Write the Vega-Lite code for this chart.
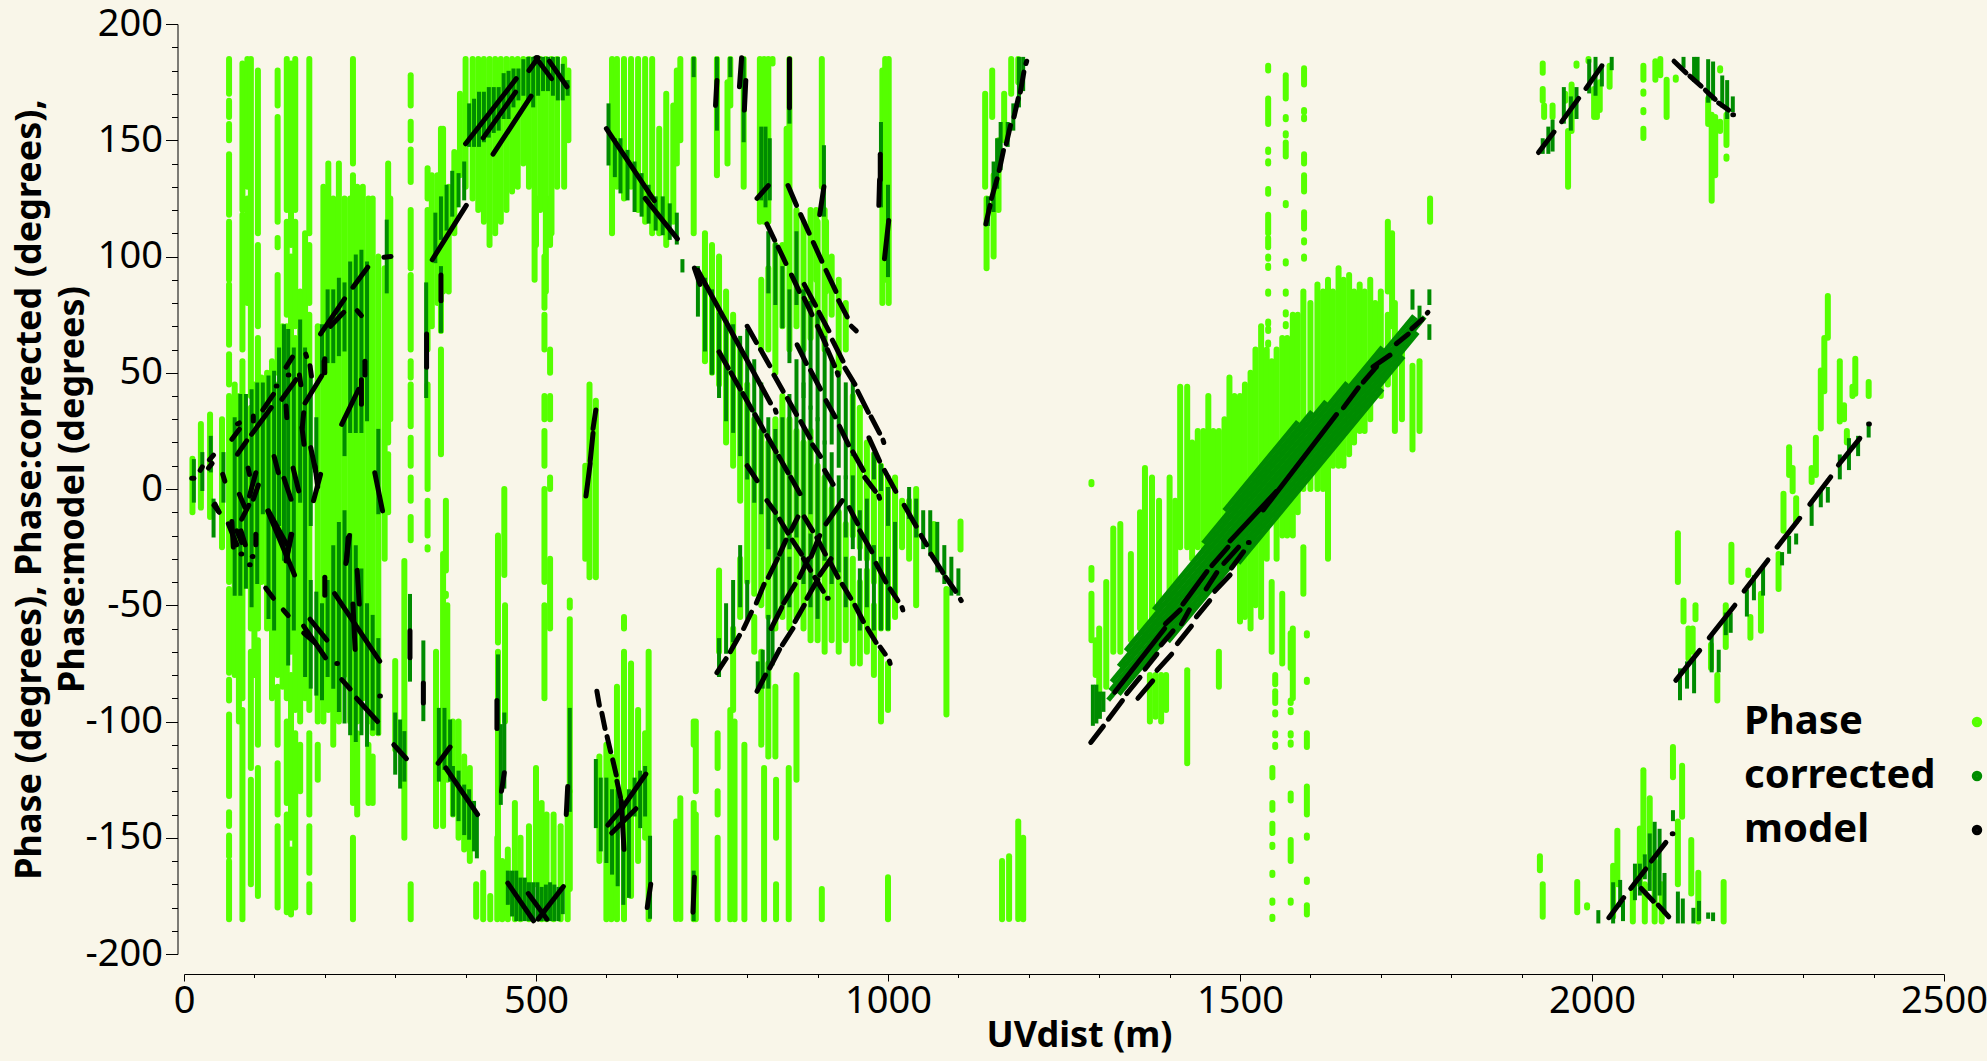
{"$schema":"https://vega.github.io/schema/vega-lite/v6.json","width":1760,"height":930,"autosize":"none","padding":{"left":184,"top":24,"right":43,"bottom":107},"background":"#f9f6e9","config":{"view":{"stroke":null}},
"datasets":{
"phase":[
{"x":12,"y":13,"y2":-10},{"x":24,"y":28,"y2":-8},{"x":37,"y":32,"y2":-12},{"x":54,"y":30,"y2":-25},{"x":64,"y":185,"y2":170},{"x":64,"y":167,"y2":160},{"x":64,"y":157,"y2":150},{"x":64,"y":144,"y2":118},{"x":64,"y":115,"y2":90},{"x":64,"y":88,"y2":62},{"x":64,"y":58,"y2":45},{"x":64,"y":40,"y2":-40},{"x":64,"y":-43,"y2":-79},{"x":64,"y":-82,"y2":-91},{"x":64,"y":-97,"y2":-132},{"x":64,"y":-139,"y2":-145},{"x":64,"y":-149,"y2":-158},{"x":64,"y":-160,"y2":-185},
{"x":83,"y":183,"y2":120},{"x":83,"y":118,"y2":60},{"x":83,"y":55,"y2":-90},{"x":83,"y":-95,"y2":-185},{"x":90,"y":185,"y2":130},{"x":90,"y":125,"y2":80},{"x":95,"y":185,"y2":40},{"x":95,"y":35,"y2":-60},{"x":95,"y":-70,"y2":-120},{"x":95,"y":-125,"y2":-170},{"x":105,"y":180,"y2":110},{"x":105,"y":105,"y2":70},{"x":105,"y":65,"y2":-60},{"x":105,"y":-65,"y2":-110},{"x":105,"y":-120,"y2":-175},{"x":72,"y":45,"y2":-80},{"x":78,"y":40,"y2":-100},{"x":100,"y":45,"y2":-80},{"x":110,"y":48,"y2":-40},{"x":118,"y":50,"y2":-60},{"x":125,"y":55,"y2":-90},
{"x":133,"y":180,"y2":165},{"x":133,"y":160,"y2":115},{"x":133,"y":108,"y2":104},{"x":133,"y":92,"y2":50},{"x":133,"y":45,"y2":-80},{"x":133,"y":-85,"y2":-110},{"x":133,"y":-118,"y2":-140},{"x":133,"y":-145,"y2":-180},{"x":140,"y":70,"y2":-85},{"x":146,"y":185,"y2":120},{"x":146,"y":115,"y2":75},{"x":146,"y":70,"y2":-90},{"x":146,"y":-100,"y2":-135},{"x":146,"y":-140,"y2":-182},{"x":152,"y":183,"y2":105},{"x":152,"y":100,"y2":-70},{"x":152,"y":-80,"y2":-150},{"x":152,"y":-155,"y2":-183},{"x":158,"y":185,"y2":120},{"x":158,"y":115,"y2":70},{"x":158,"y":65,"y2":-95},{"x":158,"y":-105,"y2":-180},{"x":165,"y":85,"y2":-100},{"x":165,"y":-110,"y2":-130},{"x":172,"y":110,"y2":-90},{"x":178,"y":185,"y2":110},{"x":178,"y":105,"y2":80},{"x":178,"y":75,"y2":-95},{"x":178,"y":-105,"y2":-140},{"x":178,"y":-145,"y2":-165},{"x":178,"y":-170,"y2":-182},{"x":190,"y":70,"y2":-100},{"x":190,"y":-110,"y2":-125},{"x":198,"y":130,"y2":-100},{"x":205,"y":140,"y2":-95},{"x":212,"y":125,"y2":-110},{"x":220,"y":140,"y2":-100},{"x":228,"y":125,"y2":-80},{"x":236,"y":125,"y2":-100},{"x":240,"y":185,"y2":140},{"x":240,"y":135,"y2":-135},{"x":240,"y":-150,"y2":-185},{"x":246,"y":130,"y2":-100},{"x":246,"y":-105,"y2":-140},{"x":254,"y":130,"y2":-90},{"x":262,"y":125,"y2":-100},{"x":262,"y":-110,"y2":-135},{"x":268,"y":125,"y2":-105},{"x":268,"y":-115,"y2":-135},{"x":276,"y":100,"y2":-105},{"x":285,"y":95,"y2":-30},{"x":290,"y":140,"y2":20},{"x":290,"y":15,"y2":-10},{"x":293,"y":125,"y2":30},
{"x":300,"y":-74,"y2":-112},{"x":313,"y":-31,"y2":-150},{"x":322,"y":178,"y2":165},{"x":322,"y":158,"y2":150},{"x":322,"y":146,"y2":132},{"x":322,"y":120,"y2":95},{"x":322,"y":92,"y2":60},{"x":322,"y":55,"y2":48},{"x":322,"y":45,"y2":27},{"x":322,"y":22,"y2":10},{"x":322,"y":5,"y2":-5},{"x":322,"y":-12,"y2":-22},{"x":322,"y":-170,"y2":-185},{"x":346,"y":138,"y2":125},{"x":346,"y":120,"y2":60},{"x":346,"y":45,"y2":0},{"x":346,"y":-5,"y2":-20},{"x":346,"y":-25,"y2":-26},{"x":365,"y":155,"y2":90},{"x":365,"y":90,"y2":68},{"x":365,"y":60,"y2":15},{"x":368,"y":-28,"y2":-145},{"x":372,"y":-5,"y2":-35},{"x":372,"y":-45,"y2":-46},
{"x":358,"y":-70,"y2":-145},{"x":374,"y":-50,"y2":-125},{"x":382,"y":-100,"y2":-140},{"x":390,"y":-100,"y2":-150},{"x":398,"y":-115,"y2":-155},{"x":406,"y":-120,"y2":-160},{"x":352,"y":135,"y2":70},{"x":360,"y":135,"y2":80},{"x":368,"y":155,"y2":85},{"x":376,"y":130,"y2":85},{"x":384,"y":145,"y2":110},
{"x":392,"y":170,"y2":135},{"x":400,"y":185,"y2":130},{"x":410,"y":185,"y2":125},{"x":418,"y":185,"y2":120},{"x":426,"y":185,"y2":115},{"x":434,"y":185,"y2":105},{"x":442,"y":185,"y2":110},{"x":450,"y":185,"y2":115},{"x":458,"y":185,"y2":120},{"x":466,"y":185,"y2":128},{"x":474,"y":185,"y2":130},{"x":482,"y":185,"y2":140},{"x":490,"y":185,"y2":130},{"x":498,"y":185,"y2":90},{"x":506,"y":185,"y2":120},{"x":514,"y":185,"y2":85},{"x":522,"y":185,"y2":110},{"x":530,"y":185,"y2":130},{"x":540,"y":185,"y2":130},{"x":546,"y":180,"y2":150},
{"x":512,"y":100,"y2":78},{"x":512,"y":75,"y2":60},{"x":512,"y":40,"y2":30},{"x":512,"y":25,"y2":10},{"x":512,"y":0,"y2":-40},{"x":512,"y":-50,"y2":-90},{"x":500,"y":125,"y2":105},{"x":520,"y":125,"y2":105},{"x":520,"y":60,"y2":50},{"x":520,"y":40,"y2":30},{"x":520,"y":5,"y2":0},{"x":520,"y":-30,"y2":-60},{"x":455,"y":0,"y2":-37},{"x":446,"y":-20,"y2":-66},{"x":446,"y":-70,"y2":-165},{"x":456,"y":-50,"y2":-100},
{"x":415,"y":-170,"y2":-184},{"x":425,"y":-165,"y2":-185},{"x":435,"y":-175,"y2":-185},{"x":445,"y":-150,"y2":-185},{"x":452,"y":-160,"y2":-185},{"x":460,"y":-155,"y2":-185},{"x":470,"y":-135,"y2":-185},{"x":478,"y":-150,"y2":-185},{"x":490,"y":-145,"y2":-185},{"x":500,"y":-120,"y2":-170},{"x":508,"y":-135,"y2":-185},{"x":515,"y":-140,"y2":-185},{"x":525,"y":-140,"y2":-185},{"x":535,"y":-145,"y2":-185},{"x":545,"y":-140,"y2":-185},{"x":548,"y":-48,"y2":-51},{"x":548,"y":-56,"y2":-130},{"x":548,"y":-130,"y2":-172},
{"x":570,"y":10,"y2":-30},{"x":576,"y":45,"y2":-38},{"x":585,"y":38,"y2":-38},
{"x":608,"y":185,"y2":110},{"x":615,"y":185,"y2":130},{"x":625,"y":185,"y2":125},{"x":635,"y":185,"y2":130},{"x":645,"y":185,"y2":120},{"x":655,"y":185,"y2":115},{"x":665,"y":185,"y2":110},{"x":675,"y":155,"y2":110},{"x":685,"y":170,"y2":105},{"x":695,"y":165,"y2":115},{"x":700,"y":180,"y2":140},{"x":705,"y":185,"y2":150},
{"x":590,"y":-115,"y2":-160},{"x":600,"y":-110,"y2":-185},{"x":607,"y":-115,"y2":-185},{"x":615,"y":-85,"y2":-185},{"x":625,"y":-55,"y2":-60},{"x":625,"y":-70,"y2":-185},{"x":635,"y":-75,"y2":-175},{"x":645,"y":-95,"y2":-160},{"x":655,"y":-105,"y2":-150},{"x":660,"y":-70,"y2":-185},{"x":705,"y":-133,"y2":-185},{"x":727,"y":-100,"y2":-130},{"x":727,"y":-140,"y2":-185},
{"x":724,"y":185,"y2":110},{"x":757,"y":185,"y2":135},{"x":776,"y":185,"y2":165},{"x":772,"y":175,"y2":140},{"x":795,"y":185,"y2":130},{"x":818,"y":185,"y2":115},{"x":824,"y":185,"y2":115},{"x":830,"y":185,"y2":115},{"x":836,"y":185,"y2":183},{"x":860,"y":185,"y2":125},{"x":856,"y":155,"y2":100},{"x":906,"y":185,"y2":130},{"x":898,"y":120,"y2":90},{"x":912,"y":115,"y2":85},{"x":992,"y":180,"y2":80},{"x":1001,"y":185,"y2":80},{"x":996,"y":185,"y2":90},
{"x":699,"y":-143,"y2":-185},{"x":724,"y":-100,"y2":-110},{"x":724,"y":-135,"y2":-185},{"x":758,"y":-105,"y2":-120},{"x":758,"y":-130,"y2":-140},{"x":758,"y":-150,"y2":-185},{"x":776,"y":-95,"y2":-185},{"x":782,"y":-100,"y2":-185},{"x":796,"y":-110,"y2":-185},{"x":824,"y":-120,"y2":-185},{"x":841,"y":-125,"y2":-150},{"x":841,"y":-170,"y2":-185},{"x":859,"y":-120,"y2":-185},{"x":906,"y":-172,"y2":-185},{"x":1000,"y":-167,"y2":-185},{"x":1162,"y":-160,"y2":-185},{"x":1172,"y":-158,"y2":-185},{"x":1185,"y":-143,"y2":-185},{"x":1192,"y":-150,"y2":-185},
{"x":740,"y":110,"y2":55},{"x":750,"y":105,"y2":50},{"x":760,"y":100,"y2":45},{"x":760,"y":-35,"y2":-70},{"x":770,"y":85,"y2":20},{"x":780,"y":75,"y2":10},{"x":780,"y":-60,"y2":-95},{"x":790,"y":60,"y2":-5},{"x":790,"y":-30,"y2":-55},{"x":800,"y":45,"y2":-40},{"x":810,"y":30,"y2":-45},{"x":810,"y":-55,"y2":-70},{"x":820,"y":90,"y2":60},{"x":820,"y":25,"y2":-50},{"x":820,"y":-70,"y2":-110},{"x":830,"y":95,"y2":60},{"x":830,"y":20,"y2":-55},{"x":830,"y":-75,"y2":-115},{"x":840,"y":105,"y2":50},{"x":840,"y":30,"y2":-60},{"x":840,"y":-85,"y2":-115},{"x":850,"y":105,"y2":70},{"x":850,"y":40,"y2":-55},{"x":860,"y":125,"y2":60},{"x":860,"y":30,"y2":-60},{"x":870,"y":120,"y2":70},{"x":870,"y":25,"y2":-55},{"x":870,"y":-80,"y2":-125},{"x":880,"y":115,"y2":60},{"x":880,"y":20,"y2":-60},{"x":890,"y":120,"y2":65},{"x":890,"y":25,"y2":-65},{"x":900,"y":115,"y2":70},{"x":900,"y":10,"y2":-65},{"x":910,"y":120,"y2":60},{"x":910,"y":5,"y2":-70},{"x":920,"y":100,"y2":75},{"x":920,"y":0,"y2":-65},{"x":930,"y":90,"y2":50},{"x":930,"y":-10,"y2":-70},{"x":940,"y":80,"y2":60},{"x":940,"y":-15,"y2":-65},{"x":950,"y":40,"y2":-20},{"x":950,"y":-30,"y2":-75},{"x":960,"y":35,"y2":-25},{"x":960,"y":-40,"y2":-75},{"x":970,"y":20,"y2":-30},{"x":970,"y":-35,"y2":-70},{"x":980,"y":15,"y2":-40},{"x":980,"y":-50,"y2":-80},{"x":990,"y":10,"y2":-60},{"x":990,"y":-70,"y2":-100},{"x":1000,"y":5,"y2":-60},{"x":1000,"y":-75,"y2":-95},{"x":1010,"y":5,"y2":-55},{"x":1020,"y":-5,"y2":-25},{"x":1030,"y":-5,"y2":-30},{"x":1040,"y":0,"y2":-50},{"x":1065,"y":-15,"y2":-28},{"x":1083,"y":-43,"y2":-97},{"x":1103,"y":-14,"y2":-26},
{"x":1140,"y":125,"y2":95},{"x":1138,"y":170,"y2":130},{"x":1150,"y":135,"y2":100},{"x":1157,"y":150,"y2":120},{"x":1148,"y":180,"y2":160},{"x":1165,"y":170,"y2":150},{"x":1175,"y":185,"y2":170},{"x":1185,"y":185,"y2":175},
{"x":1289,"y":2,"y2":3},{"x":1289,"y":-34,"y2":-39},{"x":1289,"y":-45,"y2":-65},{"x":1295,"y":-65,"y2":-80},{"x":1300,"y":-60,"y2":-90},{"x":1310,"y":-40,"y2":-85},{"x":1320,"y":-17,"y2":-70},{"x":1330,"y":-15,"y2":-70},{"x":1345,"y":-28,"y2":-65},{"x":1358,"y":-10,"y2":-60},{"x":1365,"y":9,"y2":-65},{"x":1375,"y":5,"y2":-70},{"x":1385,"y":-5,"y2":-65},{"x":1372,"y":-80,"y2":-100},{"x":1380,"y":-80,"y2":-98},{"x":1388,"y":-80,"y2":-100},{"x":1395,"y":-80,"y2":-95},{"x":1400,"y":5,"y2":-60},{"x":1408,"y":-5,"y2":-55},{"x":1415,"y":44,"y2":-25},{"x":1425,"y":44,"y2":-25},{"x":1425,"y":-78,"y2":-118},{"x":1432,"y":20,"y2":-30},{"x":1440,"y":25,"y2":-25},{"x":1448,"y":25,"y2":-25},{"x":1455,"y":40,"y2":-30},{"x":1462,"y":25,"y2":-30},{"x":1470,"y":25,"y2":-30},{"x":1470,"y":-70,"y2":-85},{"x":1478,"y":30,"y2":-20},{"x":1485,"y":48,"y2":-5},{"x":1492,"y":40,"y2":-20},{"x":1500,"y":40,"y2":-57},{"x":1507,"y":45,"y2":-55},{"x":1515,"y":50,"y2":-60},{"x":1522,"y":60,"y2":-50},{"x":1530,"y":70,"y2":-55},{"x":1538,"y":60,"y2":-30},{"x":1545,"y":55,"y2":-10},{"x":1545,"y":-40,"y2":-70},{"x":1552,"y":60,"y2":-30},{"x":1560,"y":65,"y2":-20},{"x":1560,"y":-45,"y2":-75},{"x":1567,"y":65,"y2":-20},{"x":1575,"y":75,"y2":-20},{"x":1575,"y":-60,"y2":-90},{"x":1582,"y":75,"y2":-10},{"x":1590,"y":85,"y2":0},{"x":1590,"y":-25,"y2":-45},{"x":1600,"y":80,"y2":0},{"x":1610,"y":88,"y2":0},{"x":1618,"y":85,"y2":0},{"x":1625,"y":90,"y2":-30},{"x":1632,"y":85,"y2":10},{"x":1640,"y":95,"y2":10},{"x":1647,"y":90,"y2":10},{"x":1655,"y":92,"y2":15},{"x":1662,"y":85,"y2":20},{"x":1670,"y":88,"y2":25},{"x":1677,"y":85,"y2":25},{"x":1685,"y":90,"y2":30},{"x":1692,"y":80,"y2":45},{"x":1700,"y":85,"y2":40},{"x":1710,"y":115,"y2":85},{"x":1710,"y":75,"y2":45},{"x":1716,"y":110,"y2":70},{"x":1720,"y":80,"y2":25},{"x":1730,"y":60,"y2":30},{"x":1745,"y":53,"y2":17},{"x":1755,"y":55,"y2":25},{"x":1770,"y":125,"y2":115},
{"x":1540,"y":180,"y2":182},{"x":1540,"y":168,"y2":157},{"x":1540,"y":146,"y2":145},{"x":1540,"y":141,"y2":140},{"x":1540,"y":129,"y2":127},{"x":1540,"y":118,"y2":110},{"x":1540,"y":108,"y2":104},{"x":1540,"y":100,"y2":99},{"x":1540,"y":96,"y2":95},{"x":1540,"y":85,"y2":84},{"x":1540,"y":72,"y2":71},{"x":1540,"y":69,"y2":68},{"x":1540,"y":63,"y2":62},{"x":1546,"y":-120,"y2":-124},{"x":1546,"y":-135,"y2":-138},{"x":1546,"y":-144,"y2":-148},{"x":1546,"y":-153,"y2":-154},{"x":1546,"y":-165,"y2":-166},{"x":1546,"y":-177,"y2":-178},{"x":1546,"y":-184,"y2":-185},{"x":1550,"y":-80,"y2":-84},{"x":1550,"y":-87,"y2":-92},{"x":1550,"y":-96,"y2":-97},{"x":1550,"y":-105,"y2":-106},{"x":1550,"y":-110,"y2":-111},
{"x":1565,"y":178,"y2":168},{"x":1565,"y":160,"y2":159},{"x":1565,"y":153,"y2":152},{"x":1565,"y":149,"y2":143},{"x":1565,"y":123,"y2":122},{"x":1565,"y":98,"y2":97},{"x":1565,"y":85,"y2":84},{"x":1565,"y":76,"y2":75},{"x":1565,"y":71,"y2":70},{"x":1572,"y":-62,"y2":-77},{"x":1572,"y":-91,"y2":-92},{"x":1572,"y":-95,"y2":-96},{"x":1572,"y":-105,"y2":-106},{"x":1572,"y":-109,"y2":-110},{"x":1572,"y":-131,"y2":-134},{"x":1572,"y":-151,"y2":-160},{"x":1572,"y":-177,"y2":-178},
{"x":1591,"y":181,"y2":174},{"x":1591,"y":163,"y2":162},{"x":1591,"y":160,"y2":159},{"x":1591,"y":144,"y2":140},{"x":1591,"y":135,"y2":128},{"x":1591,"y":119,"y2":112},{"x":1591,"y":107,"y2":106},{"x":1591,"y":100,"y2":99},{"x":1595,"y":-62,"y2":-63},{"x":1595,"y":-82,"y2":-83},{"x":1595,"y":-105,"y2":-111},{"x":1595,"y":-128,"y2":-140},{"x":1595,"y":-149,"y2":-150},{"x":1595,"y":-168,"y2":-169},{"x":1595,"y":-179,"y2":-183},
{"x":1930,"y":183,"y2":179},{"x":1930,"y":172,"y2":167},{"x":1932,"y":165,"y2":160},{"x":1944,"y":165,"y2":160},{"x":1962,"y":170,"y2":167},{"x":1966,"y":154,"y2":130},{"x":1971,"y":174,"y2":154},{"x":1978,"y":183,"y2":182},{"x":1995,"y":185,"y2":184},{"x":2003,"y":172,"y2":160},{"x":2007,"y":172,"y2":160},{"x":2011,"y":175,"y2":163},{"x":2025,"y":182,"y2":173},{"x":2073,"y":182,"y2":176},{"x":2073,"y":171,"y2":170},{"x":2073,"y":163,"y2":162},{"x":2073,"y":155,"y2":151},{"x":2097,"y":185,"y2":178},{"x":2090,"y":184,"y2":176},{"x":2106,"y":176,"y2":160},{"x":2119,"y":177,"y2":176},{"x":2165,"y":168,"y2":157},{"x":2170,"y":161,"y2":124},{"x":2175,"y":160,"y2":135},{"x":2182,"y":181,"y2":180},{"x":2182,"y":158,"y2":154},{"x":2191,"y":161,"y2":148},{"x":2191,"y":143,"y2":142},
{"x":1926,"y":-158,"y2":-164},{"x":1930,"y":-170,"y2":-184},{"x":1979,"y":-169,"y2":-182},{"x":1993,"y":-179,"y2":-180},{"x":2030,"y":-162,"y2":-184},{"x":2036,"y":-147,"y2":-170},{"x":2058,"y":-173,"y2":-186},{"x":2068,"y":-146,"y2":-170},{"x":2073,"y":-121,"y2":-157},{"x":2075,"y":-170,"y2":-186},{"x":2082,"y":-133,"y2":-163},{"x":2089,"y":-160,"y2":-186},{"x":2099,"y":-170,"y2":-186},{"x":2115,"y":-111,"y2":-124},{"x":2122,"y":-143,"y2":-170},{"x":2128,"y":-119,"y2":-141},{"x":2141,"y":-151,"y2":-174},{"x":2151,"y":-165,"y2":-186},{"x":2187,"y":-169,"y2":-186},
{"x":2122,"y":-19,"y2":-40},{"x":2130,"y":-48,"y2":-57},{"x":2147,"y":-50,"y2":-56},{"x":2137,"y":-60,"y2":-73},{"x":2143,"y":-60,"y2":-70},{"x":2169,"y":-67,"y2":-77},{"x":2178,"y":-80,"y2":-91},{"x":2198,"y":-24,"y2":-40},{"x":2190,"y":-50,"y2":-68},{"x":2225,"y":-55,"y2":-64},{"x":2240,"y":-45,"y2":-61},{"x":2222,"y":-35,"y2":-37},{"x":2265,"y":-28,"y2":-43},{"x":2272,"y":-2,"y2":-18},{"x":2280,"y":18,"y2":6},{"x":2285,"y":9,"y2":-1},{"x":2290,"y":-4,"y2":-14},{"x":2312,"y":9,"y2":3},{"x":2318,"y":22,"y2":6},{"x":2325,"y":51,"y2":26},{"x":2330,"y":65,"y2":42},{"x":2335,"y":83,"y2":65},{"x":2352,"y":55,"y2":29},{"x":2358,"y":36,"y2":30},{"x":2362,"y":25,"y2":20},{"x":2374,"y":56,"y2":41},{"x":2370,"y":44,"y2":40},{"x":2393,"y":46,"y2":40}
],
"corrected":[
{"x":14,"y":12,"y2":-5},{"x":26,"y":15,"y2":0},{"x":38,"y":22,"y2":8},{"x":56,"y":15,"y2":-5},{"x":42,"y":-5,"y2":-20},{"x":72,"y":30,"y2":-45},{"x":80,"y":40,"y2":-45},{"x":88,"y":40,"y2":-42},{"x":96,"y":42,"y2":-50},{"x":104,"y":45,"y2":-40},{"x":112,"y":45,"y2":-10},{"x":120,"y":48,"y2":-55},{"x":128,"y":50,"y2":-60},{"x":135,"y":60,"y2":-15},{"x":142,"y":70,"y2":-30},{"x":148,"y":68,"y2":-75},{"x":156,"y":60,"y2":-60},{"x":165,"y":72,"y2":-5},{"x":172,"y":60,"y2":-80},{"x":180,"y":50,"y2":-15},{"x":180,"y":-40,"y2":-85},{"x":188,"y":30,"y2":5},{"x":188,"y":-45,"y2":-88},{"x":196,"y":70,"y2":50},{"x":196,"y":-50,"y2":-90},{"x":204,"y":85,"y2":55},{"x":204,"y":-40,"y2":-80},{"x":212,"y":85,"y2":55},{"x":212,"y":-25,"y2":-85},{"x":220,"y":90,"y2":58},{"x":220,"y":-15,"y2":-95},{"x":228,"y":88,"y2":60},{"x":228,"y":30,"y2":15},{"x":228,"y":-10,"y2":-100},{"x":236,"y":97,"y2":25},{"x":236,"y":-20,"y2":-105},{"x":244,"y":100,"y2":25},{"x":244,"y":-25,"y2":-108},{"x":252,"y":102,"y2":25},{"x":252,"y":-35,"y2":-105},{"x":260,"y":97,"y2":30},{"x":260,"y":-50,"y2":-110},{"x":268,"y":-55,"y2":-103},{"x":276,"y":25,"y2":-10},{"x":276,"y":-65,"y2":-105},{"x":288,"y":115,"y2":85},
{"x":300,"y":-97,"y2":-122},{"x":307,"y":-100,"y2":-128},{"x":313,"y":-105,"y2":-125},{"x":321,"y":-46,"y2":-82},{"x":340,"y":-66,"y2":-99},{"x":344,"y":88,"y2":40},{"x":365,"y":95,"y2":68},{"x":357,"y":118,"y2":98},{"x":365,"y":125,"y2":108},{"x":373,"y":130,"y2":112},{"x":381,"y":136,"y2":118},{"x":390,"y":135,"y2":122},{"x":398,"y":140,"y2":125},
{"x":405,"y":165,"y2":148},{"x":412,"y":167,"y2":148},{"x":419,"y":170,"y2":148},{"x":426,"y":170,"y2":150},{"x":433,"y":172,"y2":152},{"x":440,"y":172,"y2":154},{"x":447,"y":172,"y2":155},{"x":454,"y":178,"y2":160},{"x":461,"y":179,"y2":160},{"x":468,"y":180,"y2":165},{"x":475,"y":180,"y2":168},{"x":482,"y":184,"y2":170},{"x":489,"y":185,"y2":168},{"x":496,"y":185,"y2":165},{"x":503,"y":185,"y2":170},{"x":510,"y":185,"y2":172},{"x":517,"y":185,"y2":172},{"x":524,"y":185,"y2":170},{"x":531,"y":185,"y2":168},{"x":538,"y":182,"y2":168},{"x":545,"y":175,"y2":170},
{"x":362,"y":-95,"y2":-125},{"x":370,"y":-95,"y2":-120},{"x":378,"y":-100,"y2":-125},{"x":382,"y":-120,"y2":-140},{"x":390,"y":-122,"y2":-142},{"x":398,"y":-128,"y2":-148},{"x":405,"y":-130,"y2":-150},{"x":412,"y":-135,"y2":-155},{"x":416,"y":-140,"y2":-158},{"x":446,"y":-72,"y2":-103},{"x":455,"y":-97,"y2":-128},{"x":450,"y":-102,"y2":-135},{"x":548,"y":-95,"y2":-138},
{"x":460,"y":-165,"y2":-178},{"x":466,"y":-165,"y2":-183},{"x":472,"y":-165,"y2":-185},{"x":478,"y":-168,"y2":-185},{"x":484,"y":-168,"y2":-185},{"x":490,"y":-170,"y2":-185},{"x":496,"y":-170,"y2":-185},{"x":502,"y":-170,"y2":-185},{"x":508,"y":-172,"y2":-185},{"x":514,"y":-171,"y2":-185},{"x":520,"y":-170,"y2":-185},{"x":526,"y":-171,"y2":-185},{"x":532,"y":-172,"y2":-185},{"x":538,"y":-172,"y2":-182},
{"x":585,"y":-117,"y2":-145},{"x":592,"y":-125,"y2":-155},{"x":600,"y":-125,"y2":-160},{"x":608,"y":-130,"y2":-165},{"x":616,"y":-130,"y2":-170},{"x":624,"y":-135,"y2":-178},{"x":632,"y":-130,"y2":-175},{"x":640,"y":-125,"y2":-140},{"x":648,"y":-122,"y2":-145},{"x":655,"y":-120,"y2":-140},{"x":662,"y":-150,"y2":-184},{"x":724,"y":-165,"y2":-185},
{"x":603,"y":165,"y2":140},{"x":612,"y":150,"y2":135},{"x":620,"y":150,"y2":128},{"x":630,"y":145,"y2":125},{"x":640,"y":140,"y2":120},{"x":650,"y":135,"y2":118},{"x":660,"y":130,"y2":115},{"x":670,"y":125,"y2":112},{"x":680,"y":125,"y2":110},{"x":690,"y":122,"y2":108},{"x":700,"y":118,"y2":106},{"x":708,"y":98,"y2":94},{"x":724,"y":185,"y2":178},{"x":757,"y":185,"y2":155},{"x":776,"y":185,"y2":178},{"x":795,"y":185,"y2":150},{"x":820,"y":155,"y2":125},{"x":826,"y":155,"y2":122},{"x":832,"y":150,"y2":125},{"x":860,"y":185,"y2":158},{"x":909,"y":147,"y2":118},{"x":990,"y":157,"y2":122},{"x":1000,"y":130,"y2":92},
{"x":1142,"y":125,"y2":114},{"x":1150,"y":140,"y2":120},{"x":1155,"y":150,"y2":130},{"x":1160,"y":157,"y2":138},{"x":1170,"y":157,"y2":148},{"x":1178,"y":165,"y2":155},{"x":1186,"y":185,"y2":165},{"x":1192,"y":185,"y2":172},
{"x":730,"y":95,"y2":75},{"x":740,"y":90,"y2":60},{"x":750,"y":85,"y2":50},{"x":760,"y":75,"y2":40},{"x":770,"y":70,"y2":30},{"x":780,"y":70,"y2":25},{"x":790,"y":65,"y2":15},{"x":800,"y":68,"y2":5},{"x":810,"y":55,"y2":-5},{"x":820,"y":45,"y2":-10},{"x":830,"y":30,"y2":-25},{"x":830,"y":110,"y2":85},{"x":840,"y":105,"y2":80},{"x":850,"y":95,"y2":70},{"x":860,"y":85,"y2":55},{"x":870,"y":110,"y2":80},{"x":880,"y":85,"y2":40},{"x":890,"y":80,"y2":35},{"x":900,"y":75,"y2":30},{"x":910,"y":65,"y2":20},{"x":920,"y":55,"y2":20},{"x":930,"y":50,"y2":10},{"x":940,"y":45,"y2":5},{"x":950,"y":45,"y2":15},
{"x":840,"y":25,"y2":-55},{"x":850,"y":30,"y2":-50},{"x":860,"y":40,"y2":-25},{"x":860,"y":-30,"y2":-50},{"x":870,"y":55,"y2":-20},{"x":880,"y":45,"y2":-40},{"x":890,"y":35,"y2":-10},{"x":890,"y":-20,"y2":-50},{"x":900,"y":30,"y2":-20},{"x":900,"y":-25,"y2":-55},{"x":910,"y":20,"y2":-30},{"x":920,"y":15,"y2":-40},{"x":930,"y":5,"y2":-35},{"x":940,"y":5,"y2":-20},{"x":940,"y":-30,"y2":-50},{"x":950,"y":5,"y2":-25},{"x":960,"y":-10,"y2":-30},{"x":960,"y":-35,"y2":-60},{"x":970,"y":-5,"y2":-50},{"x":980,"y":15,"y2":5},{"x":980,"y":-25,"y2":-60},{"x":990,"y":10,"y2":0},{"x":990,"y":-30,"y2":-60},{"x":1000,"y":0,"y2":-15},{"x":1000,"y":-30,"y2":-60},{"x":1010,"y":-15,"y2":-45},
{"x":760,"y":-65,"y2":-80},{"x":770,"y":-50,"y2":-70},{"x":780,"y":-40,"y2":-65},{"x":790,"y":-25,"y2":-50},{"x":800,"y":-40,"y2":-55},{"x":815,"y":-75,"y2":-85},{"x":822,"y":-70,"y2":-85},{"x":830,"y":-55,"y2":-85},{"x":836,"y":-60,"y2":-75},
{"x":1030,"y":0,"y2":-12},{"x":1040,"y":-5,"y2":-20},{"x":1050,"y":-10,"y2":-25},{"x":1060,"y":-10,"y2":-28},{"x":1070,"y":-15,"y2":-35},{"x":1080,"y":-25,"y2":-40},{"x":1090,"y":-30,"y2":-45},{"x":1100,"y":-35,"y2":-45},
{"x":1291,"y":-85,"y2":-101},{"x":1296,"y":-85,"y2":-100},{"x":1301,"y":-88,"y2":-98},{"x":1306,"y":-88,"y2":-95},{"x":1745,"y":85,"y2":78},{"x":1755,"y":78,"y2":72},{"x":1769,"y":85,"y2":80},{"x":1769,"y":70,"y2":65},
{"x":1930,"y":150,"y2":145},{"x":1938,"y":155,"y2":145},{"x":1944,"y":158,"y2":146},{"x":1960,"y":172,"y2":158},{"x":1970,"y":168,"y2":155},{"x":1978,"y":172,"y2":160},{"x":1996,"y":184,"y2":171},{"x":2005,"y":185,"y2":170},{"x":2014,"y":182,"y2":174},{"x":2028,"y":185,"y2":181},{"x":2130,"y":185,"y2":182},{"x":2145,"y":185,"y2":176},{"x":2150,"y":185,"y2":176},{"x":2165,"y":184,"y2":167},{"x":2172,"y":183,"y2":168},{"x":2185,"y":177,"y2":165},{"x":2192,"y":175,"y2":160},{"x":2200,"y":168,"y2":163},
{"x":2009,"y":-182,"y2":-186},{"x":2030,"y":-170,"y2":-186},{"x":2040,"y":-169,"y2":-179},{"x":2044,"y":-178,"y2":-185},{"x":2061,"y":-162,"y2":-176},{"x":2068,"y":-162,"y2":-174},{"x":2075,"y":-158,"y2":-167},{"x":2082,"y":-149,"y2":-172},{"x":2089,"y":-144,"y2":-177},{"x":2096,"y":-147,"y2":-174},{"x":2103,"y":-166,"y2":-182},{"x":2115,"y":-139,"y2":-142},{"x":2122,"y":-174,"y2":-186},{"x":2129,"y":-177,"y2":-186},{"x":2144,"y":-181,"y2":-186},{"x":2152,"y":-178,"y2":-185},{"x":2165,"y":-183,"y2":-184},{"x":2172,"y":-183,"y2":-185},
{"x":2125,"y":-78,"y2":-90},{"x":2135,"y":-75,"y2":-85},{"x":2145,"y":-74,"y2":-87},{"x":2170,"y":-64,"y2":-78},{"x":2180,"y":-70,"y2":-78},{"x":2190,"y":-54,"y2":-62},{"x":2197,"y":-54,"y2":-61},{"x":2220,"y":-44,"y2":-54},{"x":2230,"y":-38,"y2":-47},{"x":2243,"y":-34,"y2":-45},{"x":2270,"y":-28,"y2":-32},{"x":2280,"y":-21,"y2":-27},{"x":2290,"y":-20,"y2":-23},{"x":2312,"y":-7,"y2":-15},{"x":2325,"y":-1,"y2":-7},{"x":2335,"y":0,"y2":-5},{"x":2352,"y":14,"y2":5},{"x":2365,"y":21,"y2":9},{"x":2378,"y":22,"y2":15},{"x":2393,"y":28,"y2":23}
],
"band":[
{"x":1315,"y":-90,"x2":1760,"y2":73.2},{"x":1318,"y":-85.9,"x2":1750,"y2":72.5},{"x":1320,"y":-82.1,"x2":1745,"y2":73.7},{"x":1330,"y":-75.5,"x2":1700,"y2":60.2},{"x":1340,"y":-68.8,"x2":1650,"y2":44.9},{"x":1380,"y":-51.1,"x2":1620,"y2":36.9},{"x":1450,"y":-22.5,"x2":1600,"y2":32.5},{"x":1480,"y":-8.5,"x2":1580,"y2":28.2},{"x":1330,"y":-87.5,"x2":1750,"y2":66.5},{"x":1400,"y":-64.8,"x2":1730,"y2":56.2},{"x":1500,"y":-31.1,"x2":1700,"y2":42.2}
],
"model":[
{"x":11,"y":4.6,"x2":14,"y2":4.6},{"x":23,"y":8,"x2":26,"y2":9.5},{"x":34.6,"y":9,"x2":40,"y2":11},{"x":36,"y":12.5,"x2":42,"y2":14.6},{"x":55,"y":6.3,"x2":58,"y2":3.4},{"x":42.6,"y":-7,"x2":50,"y2":-10},{"x":68,"y":21.4,"x2":78.6,"y2":25.7},{"x":76,"y":28,"x2":78.6,"y2":28.4},{"x":76,"y":15,"x2":89,"y2":20.7},{"x":96,"y":23.5,"x2":124,"y2":35},{"x":112,"y":34,"x2":127,"y2":40.7},{"x":131,"y":44.3,"x2":132,"y2":44.3},{"x":98.5,"y":31.4,"x2":98.5,"y2":29.3},{"x":139,"y":38.6,"x2":159,"y2":47},{"x":148,"y":49,"x2":149,"y2":49},{"x":164,"y":49,"x2":166,"y2":44.8},{"x":145,"y":35.7,"x2":146,"y2":30.7},{"x":179,"y":53,"x2":181,"y2":48.6},{"x":172,"y":37,"x2":195.5,"y2":48.6},{"x":199,"y":55,"x2":199,"y2":50},{"x":170,"y":32.8,"x2":168,"y2":26.4},{"x":167.6,"y":26.4,"x2":170.5,"y2":19.2},{"x":180,"y":17.8,"x2":187,"y2":7.8},{"x":186,"y":10,"x2":190,"y2":1},{"x":194,"y":6.3,"x2":184,"y2":-5},{"x":128,"y":14,"x2":134,"y2":7},{"x":155,"y":9,"x2":163,"y2":-0.8},{"x":142,"y":4.6,"x2":152,"y2":-4.4},{"x":91,"y":9,"x2":93,"y2":6.3},{"x":102,"y":7,"x2":93,"y2":-3},{"x":105.6,"y":1.7,"x2":98.5,"y2":-4.4},{"x":78.6,"y":-2.3,"x2":86.6,"y2":-8},{"x":92,"y":-7,"x2":82,"y2":-13},{"x":63,"y":-15,"x2":75,"y2":-24},{"x":68,"y":-14,"x2":70,"y2":-25},{"x":75,"y":-18,"x2":82,"y2":-23},{"x":81,"y":-18,"x2":87,"y2":-24},{"x":102,"y":-19.5,"x2":102,"y2":-24},{"x":120,"y":-9.4,"x2":146,"y2":-23.8},{"x":153,"y":-19.5,"x2":146,"y2":-29.5},{"x":233,"y":-21,"x2":231,"y2":-31},{"x":235,"y":-20,"x2":230,"y2":-32},{"x":224,"y":27.8,"x2":248,"y2":42.9},{"x":252,"y":47,"x2":252,"y2":36.4},{"x":257,"y":55,"x2":257,"y2":49},{"x":271,"y":7,"x2":282,"y2":-9.4},
{"x":194,"y":66.7,"x2":228,"y2":81.8},{"x":208,"y":70,"x2":227,"y2":76},{"x":240,"y":86.8,"x2":261,"y2":95.4},{"x":246,"y":76.7,"x2":252,"y2":74.6},{"x":200,"y":56,"x2":200,"y2":50},{"x":173,"y":58,"x2":174,"y2":57},{"x":145,"y":52.4,"x2":154,"y2":56.7},{"x":284,"y":99.7,"x2":294,"y2":100},{"x":344.6,"y":66.7,"x2":344.6,"y2":52.4},{"x":365,"y":92,"x2":365,"y2":81},{"x":352.6,"y":98.6,"x2":401,"y2":122},{"x":400,"y":148.5,"x2":472,"y2":176.5},{"x":425,"y":151,"x2":471,"y2":170.7},{"x":439,"y":144,"x2":493,"y2":169},{"x":490,"y":180,"x2":503,"y2":185.5},{"x":500,"y":185.5,"x2":522,"y2":176.5},{"x":519,"y":184,"x2":544,"y2":173},{"x":600,"y":155,"x2":668,"y2":124},{"x":655,"y":125,"x2":701,"y2":107.6},{"x":725,"y":95,"x2":733,"y2":88},{"x":571,"y":-3,"x2":577,"y2":11},{"x":577,"y":12,"x2":581,"y2":24},{"x":581,"y":26,"x2":585,"y2":34},
{"x":44,"y":-6.5,"x2":49,"y2":-9.5},{"x":81,"y":-28,"x2":82,"y2":-28},{"x":93,"y":-32.6,"x2":94,"y2":-32.6},{"x":97,"y":-29,"x2":98,"y2":-29},{"x":119,"y":-9.5,"x2":157,"y2":-37},{"x":152,"y":-19.5,"x2":145,"y2":-31},{"x":116,"y":-42.6,"x2":127,"y2":-47},{"x":141,"y":-52,"x2":148,"y2":-54.5},{"x":200,"y":-38,"x2":200,"y2":-45.7},{"x":214,"y":-45,"x2":278,"y2":-74},{"x":246,"y":-35,"x2":249,"y2":-49.5},{"x":240,"y":-49.5,"x2":243,"y2":-69},{"x":170,"y":-59,"x2":201,"y2":-72.6},{"x":179,"y":-56,"x2":203,"y2":-65},{"x":170,"y":-62,"x2":186,"y2":-66},{"x":217,"y":-75,"x2":218,"y2":-75},{"x":224,"y":-82,"x2":236,"y2":-86},{"x":245,"y":-90,"x2":275,"y2":-100},{"x":278,"y":-89,"x2":279,"y2":-89},{"x":298,"y":-110,"x2":316,"y2":-116},{"x":321,"y":-61,"x2":321,"y2":-72.6},{"x":340,"y":-83.4,"x2":340,"y2":-92},{"x":361,"y":-118,"x2":378,"y2":-111},{"x":372,"y":-120,"x2":417,"y2":-140},{"x":444.5,"y":-91,"x2":444.5,"y2":-103},{"x":455,"y":-122,"x2":451,"y2":-130},{"x":545,"y":-128,"x2":543,"y2":-140},{"x":460,"y":-169.5,"x2":496.5,"y2":-185.7},{"x":489,"y":-174,"x2":515.5,"y2":-185},{"x":503,"y":-185,"x2":539,"y2":-171},{"x":586.5,"y":-87,"x2":590,"y2":-93},{"x":593.6,"y":-96.5,"x2":598,"y2":-103},{"x":601,"y":-106.5,"x2":606,"y2":-113},{"x":609,"y":-116.5,"x2":614,"y2":-123},{"x":615,"y":-125.7,"x2":620,"y2":-132.6},{"x":602,"y":-144.6,"x2":623,"y2":-137},{"x":623,"y":-137,"x2":656,"y2":-122.6},{"x":607.5,"y":-148,"x2":642,"y2":-137.5},{"x":621,"y":-134,"x2":625,"y2":-155},{"x":658,"y":-180,"x2":663,"y2":-170},{"x":723,"y":-182,"x2":725,"y2":-167},
{"x":792,"y":185.5,"x2":789,"y2":173},{"x":757,"y":175.7,"x2":755,"y2":165},{"x":798,"y":175.7,"x2":796,"y2":163},{"x":860,"y":185,"x2":860,"y2":164},{"x":814,"y":125,"x2":830,"y2":130.5},{"x":909,"y":130,"x2":903,"y2":118},{"x":989,"y":144,"x2":989,"y2":133},{"x":988,"y":133,"x2":987,"y2":122},{"x":1001,"y":115.5,"x2":995,"y2":99},{"x":1139,"y":114,"x2":1145,"y2":122},{"x":1147,"y":125,"x2":1155,"y2":133.4},{"x":1158,"y":137,"x2":1164,"y2":145.6},{"x":1168,"y":148.5,"x2":1174,"y2":156.4},{"x":1179,"y":160,"x2":1185,"y2":168},{"x":1188,"y":170.7,"x2":1193,"y2":179.3},{"x":1196,"y":183,"x2":1197,"y2":184},
{"x":730,"y":94,"x2":833,"y2":37},{"x":840,"y":34,"x2":841,"y2":33},
{"x":760,"y":59,"x2":773,"y2":52},{"x":777,"y":50,"x2":790,"y2":43},{"x":794,"y":41,"x2":807,"y2":34},{"x":811,"y":32,"x2":824,"y2":25},{"x":828,"y":23,"x2":841,"y2":16},{"x":845,"y":14,"x2":858,"y2":7},{"x":862,"y":5,"x2":875,"y2":-2},{"x":881,"y":-12,"x2":893,"y2":-18},{"x":899,"y":-21,"x2":911,"y2":-28},{"x":917,"y":-31,"x2":929,"y2":-38},{"x":935,"y":-41,"x2":947,"y2":-47},{"x":953,"y":-50,"x2":965,"y2":-57},{"x":971,"y":-60,"x2":983,"y2":-66},{"x":989,"y":-68,"x2":996,"y2":-71},{"x":1002,"y":-74,"x2":1003,"y2":-75},
{"x":800,"y":70,"x2":813,"y2":63},{"x":819,"y":60,"x2":832,"y2":53},{"x":838,"y":49,"x2":851,"y2":42},{"x":857,"y":39,"x2":870,"y2":32},{"x":876,"y":29,"x2":889,"y2":22},{"x":893,"y":19,"x2":904,"y2":14},{"x":910,"y":8,"x2":922,"y2":2},{"x":945,"y":-8,"x2":957,"y2":-15},{"x":960,"y":-18,"x2":977,"y2":-27},{"x":983,"y":-32,"x2":997,"y2":-40},{"x":1003,"y":-43,"x2":1014,"y2":-48},{"x":1020,"y":-51,"x2":1021,"y2":-52},
{"x":828,"y":114,"x2":839,"y2":107},{"x":844,"y":104,"x2":855,"y2":97},{"x":863,"y":92,"x2":874,"y2":85},{"x":881,"y":82,"x2":892,"y2":75},{"x":900,"y":70,"x2":912,"y2":62},{"x":914,"y":60,"x2":924,"y2":53},{"x":928,"y":50,"x2":929,"y2":49},
{"x":858,"y":130.5,"x2":870,"y2":122},{"x":876,"y":118,"x2":888,"y2":110},{"x":894,"y":106,"x2":906,"y2":98},{"x":912,"y":94,"x2":926,"y2":85},{"x":930,"y":81,"x2":942,"y2":74},{"x":948,"y":70,"x2":955,"y2":68},
{"x":881,"y":88,"x2":897,"y2":79},{"x":902,"y":76,"x2":916,"y2":68},{"x":921,"y":64,"x2":936,"y2":55},{"x":939,"y":52,"x2":953,"y2":45},{"x":957,"y":42,"x2":972,"y2":33},{"x":976,"y":31,"x2":988,"y2":24},{"x":993,"y":21,"x2":994,"y2":20},
{"x":871,"y":62,"x2":884,"y2":54},{"x":890,"y":51,"x2":904,"y2":43},{"x":912,"y":38,"x2":925,"y2":31},{"x":931,"y":27,"x2":944,"y2":19},{"x":950,"y":16,"x2":965,"y2":8},{"x":967,"y":5,"x2":982,"y2":-1},{"x":987,"y":-3,"x2":988,"y2":-4},
{"x":973,"y":22,"x2":988,"y2":12},{"x":995,"y":8,"x2":1011,"y2":-1},{"x":1023,"y":-7,"x2":1040,"y2":-16},{"x":1047,"y":-20,"x2":1055,"y2":-24},{"x":1061,"y":-28,"x2":1078,"y2":-36},{"x":1082,"y":-38,"x2":1096,"y2":-44},{"x":1103,"y":-47.5,"x2":1104,"y2":-48},
{"x":800,"y":10,"x2":814,"y2":3.6},{"x":828,"y":-5,"x2":840,"y2":-10},{"x":846,"y":-13,"x2":858,"y2":-19},{"x":864,"y":-22,"x2":877,"y2":-28},{"x":880,"y":-30,"x2":890,"y2":-35},{"x":896,"y":-38,"x2":908,"y2":-44},{"x":914,"y":-47,"x2":915,"y2":-47},
{"x":757,"y":-79,"x2":770,"y2":-73},{"x":776,"y":-70,"x2":789,"y2":-63},{"x":795,"y":-60,"x2":806,"y2":-53},{"x":813,"y":-49,"x2":824,"y2":-41},{"x":830,"y":-38,"x2":843,"y2":-30},{"x":846,"y":-28,"x2":855,"y2":-22},{"x":862,"y":-18,"x2":872,"y2":-12},
{"x":814,"y":-87,"x2":826,"y2":-80},{"x":832,"y":-77,"x2":846,"y2":-69},{"x":850,"y":-67,"x2":865,"y2":-60},{"x":868,"y":-57,"x2":881,"y2":-50},{"x":885,"y":-47,"x2":900,"y2":-39},{"x":903,"y":-37,"x2":919,"y2":-30},
{"x":834,"y":-60,"x2":849,"y2":-51},{"x":852,"y":-49,"x2":868,"y2":-41},{"x":874,"y":-38,"x2":887,"y2":-30},{"x":891,"y":-29,"x2":903,"y2":-20},{"x":912,"y":-15,"x2":935,"y2":-5},
{"x":1288,"y":-109,"x2":1306,"y2":-102},{"x":1313,"y":-99,"x2":1333,"y2":-91},{"x":1322,"y":-87.4,"x2":1393,"y2":-60},{"x":1394,"y":-58,"x2":1415,"y2":-52},{"x":1419,"y":-49.5,"x2":1453,"y2":-35.5},{"x":1460,"y":-33,"x2":1483,"y2":-25},{"x":1486,"y":-22.3,"x2":1552,"y2":-1},{"x":1533,"y":-9,"x2":1637,"y2":32},{"x":1647,"y":35,"x2":1668,"y2":43.5},{"x":1675,"y":46,"x2":1694,"y2":52.6},{"x":1689,"y":52.6,"x2":1713,"y2":57.6},{"x":1722,"y":62.5,"x2":1739,"y2":66.6},{"x":1744,"y":69,"x2":1759,"y2":73},{"x":1766,"y":75.7,"x2":1767,"y2":76},
{"x":1339,"y":-88,"x2":1358,"y2":-81},{"x":1365,"y":-77.5,"x2":1382,"y2":-71},{"x":1388,"y":-67,"x2":1405,"y2":-61},{"x":1417,"y":-58,"x2":1428,"y2":-52},{"x":1452,"y":-43,"x2":1467,"y2":-36},{"x":1477,"y":-32,"x2":1498,"y2":-25},{"x":1355,"y":-90,"x2":1376,"y2":-82.5},{"x":1382,"y":-78,"x2":1403,"y2":-71},{"x":1411,"y":-66.5,"x2":1431,"y2":-59},{"x":1438,"y":-55,"x2":1457,"y2":-48},{"x":1464,"y":-44,"x2":1486,"y2":-37},{"x":1488,"y":-34,"x2":1505,"y2":-27},{"x":1512,"y":-23,"x2":1513,"y2":-23},
{"x":1924,"y":144.7,"x2":1946,"y2":153.5},{"x":1957,"y":158,"x2":1981,"y2":168},{"x":1991.5,"y":172.3,"x2":2014,"y2":182},{"x":2116.5,"y":184,"x2":2133.5,"y2":179},{"x":2139,"y":177.6,"x2":2155,"y2":173.3},{"x":2161,"y":171.5,"x2":2175,"y2":167.6},{"x":2180,"y":166,"x2":2194,"y2":163},{"x":2200,"y":161,"x2":2201,"y2":161},
{"x":2119,"y":-82.3,"x2":2153,"y2":-69.4},{"x":2166.5,"y":-64,"x2":2203,"y2":-50},{"x":2216,"y":-43.9,"x2":2250,"y2":-30.5},{"x":2263,"y":-25,"x2":2295,"y2":-12.6},{"x":2309.5,"y":-6.6,"x2":2339,"y2":5.2},{"x":2350,"y":10.3,"x2":2380.5,"y2":21.8},{"x":2393,"y":28,"x2":2394,"y2":28},
{"x":2024,"y":-184.4,"x2":2045,"y2":-175.8},{"x":2055,"y":-171.8,"x2":2076.4,"y2":-163.4},{"x":2084.4,"y":-160,"x2":2105,"y2":-152},{"x":2114,"y":-148.3,"x2":2115,"y2":-148.3},{"x":2070,"y":-171.8,"x2":2087,"y2":-177.3},{"x":2094,"y":-179,"x2":2109,"y2":-184}
]
},
"layer":[
{"data":{"name":"phase"},"mark":{"type":"rule","strokeWidth":6,"strokeCap":"round"},
"encoding":{"x":{"field":"x","type":"quantitative","scale":{"domain":[0,2500],"nice":false,"zero":false},"axis":{"orient":"bottom","offset":20,"values":[0,500,1000,1500,2000,2500],"labelExpr":"''+datum.value","tickSize":7,"tickColor":"#000","domainColor":"#000","labelFont":"Noto Sans","labelFontSize":38,"labelColor":"#000","labelPadding":1,"grid":false,"title":"UVdist (m)","titleX":895,"titleFont":"Noto Sans","titleFontSize":36,"titleFontWeight":"bold","titleColor":"#000","titlePadding":-2,"labelFlush":false}},
"y":{"field":"y","type":"quantitative","scale":{"domain":[-200,200],"nice":false,"zero":false},"axis":{"orient":"left","offset":6.5,"values":[-200,-150,-100,-50,0,50,100,150,200],"labelExpr":"''+datum.value","tickSize":12,"tickColor":"#000","domainColor":"#000","labelFont":"Noto Sans","labelFontSize":38,"labelColor":"#000","labelPadding":3,"grid":false,"title":["Phase (degrees), Phase:corrected (degrees),","Phase:model (degrees)"],"titleFont":"Noto Sans","titleFontSize":36,"titleFontWeight":"bold","titleColor":"#000","titleLineHeight":43,"titlePadding":-6,"labelFlush":false}},
"y2":{"field":"y2"},
"color":{"datum":"Phase","type":"nominal","scale":{"domain":["Phase","corrected","model"],"range":["#55ff00","#008c00","#000000"]},"legend":{"orient":"none","legendX":1773,"legendY":678,"title":null,"labelFont":"Noto Sans","labelFontSize":40,"labelFontWeight":"bold","labelColor":"#000","labelOffset":-253,"symbolType":"circle","symbolSize":30,"symbolStrokeWidth":5,"rowPadding":14,"labelLimit":400}}}},
{"data":{"name":"corrected"},"mark":{"type":"rule","strokeWidth":4,"strokeCap":"square"},
"encoding":{"x":{"field":"x","type":"quantitative","axis":null},"y":{"field":"y","type":"quantitative","axis":null},"y2":{"field":"y2"},"color":{"datum":"corrected","type":"nominal"}}},
{"data":{"name":"band"},"mark":{"type":"rule","strokeWidth":5,"strokeCap":"square"},
"encoding":{"x":{"field":"x","type":"quantitative","axis":null},"y":{"field":"y","type":"quantitative","axis":null},"x2":{"field":"x2"},"y2":{"field":"y2"},"color":{"datum":"corrected","type":"nominal"}}},
{"data":{"name":"model"},"mark":{"type":"rule","strokeWidth":5,"strokeCap":"round"},
"encoding":{"x":{"field":"x","type":"quantitative","axis":{"orient":"bottom","offset":20,"values":[100,200,300,400,600,700,800,900,1100,1200,1300,1400,1600,1700,1800,1900,2100,2200,2300,2400],"tickSize":3.5,"tickColor":"#000","labels":false,"domain":false,"grid":false,"title":null}},"y":{"field":"y","type":"quantitative","axis":{"orient":"left","offset":6.5,"values":[-190,-180,-170,-160,-140,-130,-120,-110,-90,-80,-70,-60,-40,-30,-20,-10,10,20,30,40,60,70,80,90,110,120,130,140,160,170,180,190],"tickSize":6,"tickColor":"#000","labels":false,"domain":false,"grid":false,"title":null}},"x2":{"field":"x2"},"y2":{"field":"y2"},"color":{"datum":"model","type":"nominal"}}}
],
"resolve":{"axis":{"x":"independent","y":"independent"}}}
